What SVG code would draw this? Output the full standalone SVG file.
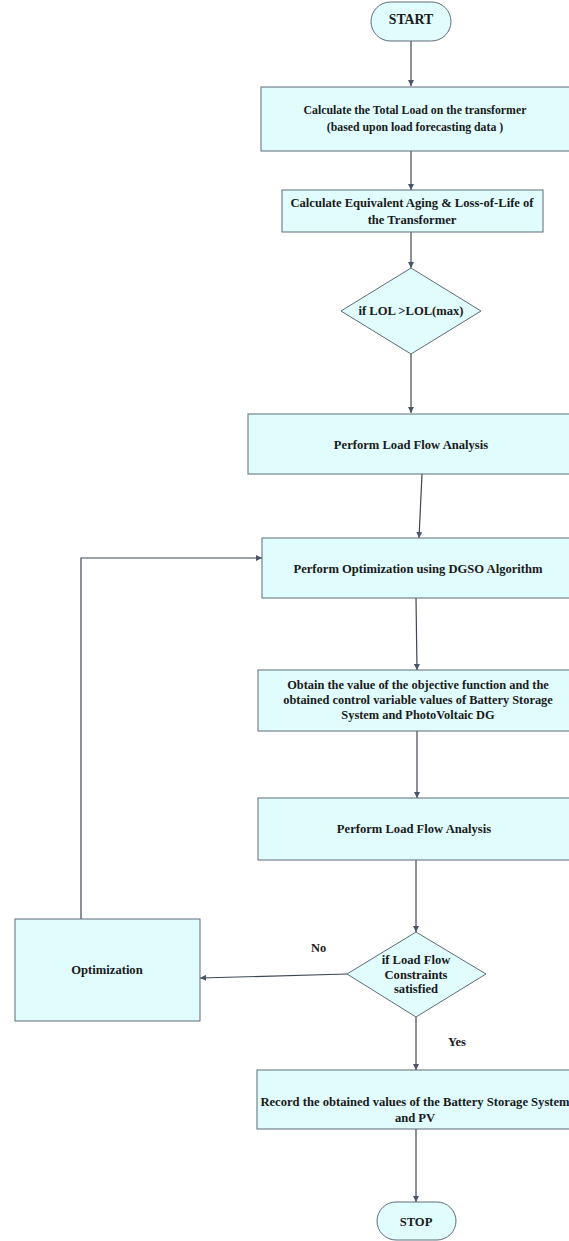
<svg xmlns="http://www.w3.org/2000/svg" width="569" height="1241" viewBox="0 0 569 1241">
<style>
.n{fill:#e0fcfd;stroke:#5f6b78;stroke-width:1}
.t{font-family:"Liberation Serif","Times New Roman",serif;font-weight:bold;font-size:12.6px;fill:#1a1a1a;text-anchor:middle}
.c{fill:none;stroke:#3f4756;stroke-width:1.2}
.l{font-family:"Liberation Serif","Times New Roman",serif;font-weight:bold;font-size:12.4px;fill:#1a1a1a}
</style>
<defs>
<marker id="ah" viewBox="0 0 8 8" refX="8" refY="4" markerWidth="6" markerHeight="6" orient="auto" markerUnits="userSpaceOnUse">
<path d="M0,0 L8,4 L0,8 z" fill="#4a5468"/>
</marker>
</defs>
<rect width="569" height="1241" fill="#ffffff"/>
<g id="connectors">
<path class="c" d="M411,41 L411,86" marker-end="url(#ah)"/>
<path class="c" d="M411,151 L411,190" marker-end="url(#ah)"/>
<path class="c" d="M411,232 L411,268" marker-end="url(#ah)"/>
<path class="c" d="M411,354 L411,413" marker-end="url(#ah)"/>
<path class="c" d="M422,474 L419,538" marker-end="url(#ah)"/>
<path class="c" d="M416,598 L417,670" marker-end="url(#ah)"/>
<path class="c" d="M417,731 L417,798" marker-end="url(#ah)"/>
<path class="c" d="M416,860 L416,932" marker-end="url(#ah)"/>
<path class="c" d="M347,974 L200,978" marker-end="url(#ah)"/>
<path class="c" d="M81,919 L81,558 L262,558" marker-end="url(#ah)"/>
<path class="c" d="M416,1017 L416,1070" marker-end="url(#ah)"/>
<path class="c" d="M416,1129 L416,1202" marker-end="url(#ah)"/>
<text class="l" x="311" y="952">No</text>
<text class="l" x="448" y="1046">Yes</text>
</g>
<g id="start">
<rect class="n" x="371" y="2" width="80" height="39" rx="19.5"/>
<text class="t" x="411" y="24" style="font-size:13.8px">START</text>
</g>
<g id="total-load">
<rect class="n" x="261" y="87" width="320" height="64"/>
<text class="t" x="415" y="114" style="font-size:11.8px">Calculate the Total Load on the transformer</text>
<text class="t" x="415" y="131" style="font-size:11.8px">(based upon load forecasting data )</text>
</g>
<g id="aging">
<rect class="n" x="282" y="190" width="261" height="42"/>
<text class="t" x="412" y="207">Calculate Equivalent Aging &amp; Loss-of-Life of</text>
<text class="t" x="412" y="224">the Transformer</text>
</g>
<g id="lol-check">
<polygon class="n" points="411,268 481,311 411,354 341,311"/>
<text class="t" x="411" y="315">if LOL &gt;LOL(max)</text>
</g>
<g id="load-flow-1">
<rect class="n" x="248" y="414" width="330" height="60"/>
<text class="t" x="411" y="449">Perform Load Flow Analysis</text>
</g>
<g id="dgso">
<rect class="n" x="262" y="538" width="316" height="60"/>
<text class="t" x="418" y="573">Perform Optimization using DGSO Algorithm</text>
</g>
<g id="objective">
<rect class="n" x="258" y="670" width="320" height="61"/>
<text class="t" x="418" y="689" style="font-size:12.4px">Obtain the value of the objective function and the</text>
<text class="t" x="418" y="704" style="font-size:12.4px">obtained control variable values of Battery Storage</text>
<text class="t" x="418" y="719" style="font-size:12.4px">System and PhotoVoltaic DG</text>
</g>
<g id="load-flow-2">
<rect class="n" x="258" y="798" width="320" height="62"/>
<text class="t" x="414" y="833">Perform Load Flow Analysis</text>
</g>
<g id="constraints">
<polygon class="n" points="416,932 486,974 416,1017 347,974"/>
<text class="t" x="416" y="964">if Load Flow</text>
<text class="t" x="416" y="979">Constraints</text>
<text class="t" x="416" y="993">satisfied</text>
</g>
<g id="optimization">
<rect class="n" x="15" y="919" width="185" height="102"/>
<text class="t" x="107" y="974">Optimization</text>
</g>
<g id="record">
<rect class="n" x="257" y="1070" width="321" height="59"/>
<text class="t" x="415" y="1106">Record the obtained values of the Battery Storage System</text>
<text class="t" x="415" y="1122">and PV</text>
</g>
<g id="stop">
<rect class="n" x="377" y="1202" width="79" height="38" rx="19"/>
<text class="t" x="416" y="1226">STOP</text>
</g>
</svg>
